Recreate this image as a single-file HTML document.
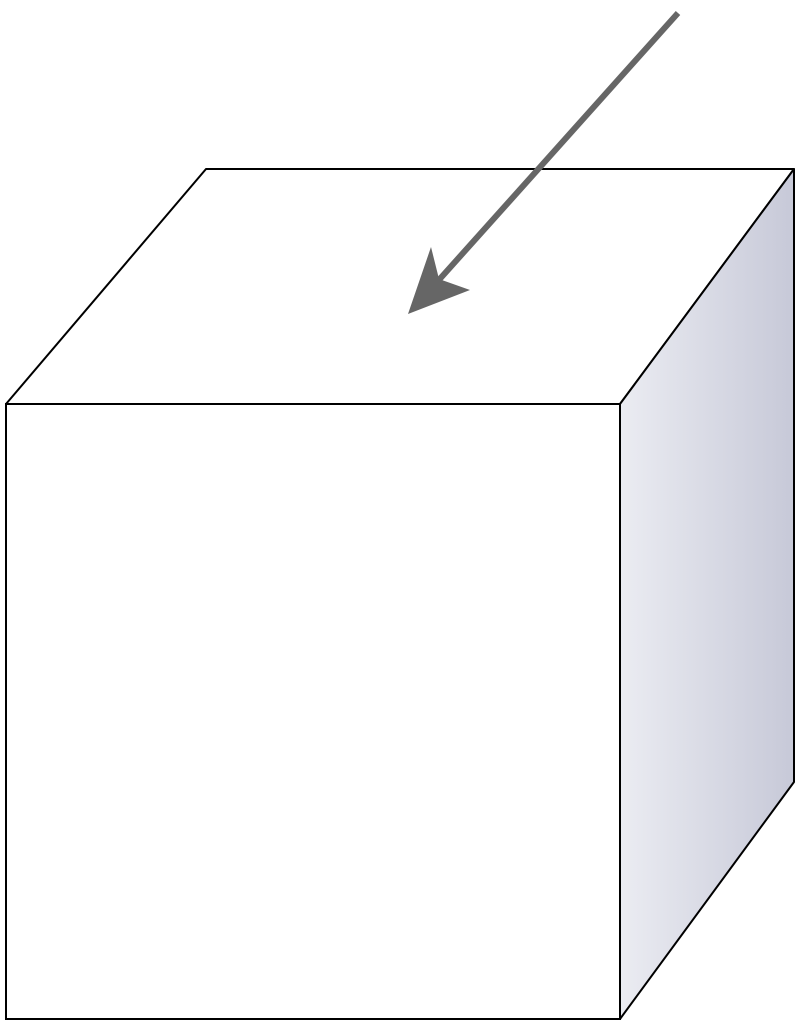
<!DOCTYPE html>
<html>
<head>
<meta charset="utf-8">
<style>
  html, body { margin: 0; padding: 0; background: #ffffff; }
  svg { display: block; }
</style>
</head>
<body>
<svg width="800" height="1032" viewBox="0 0 800 1032" xmlns="http://www.w3.org/2000/svg">
  <defs>
    <linearGradient id="sideGrad" x1="620" y1="0" x2="794" y2="0" gradientUnits="userSpaceOnUse">
      <stop offset="0" stop-color="#ebecf2"/>
      <stop offset="1" stop-color="#c7c9d8"/>
    </linearGradient>
  </defs>
  <polygon
    points="6,404 206,169 794,169 620,404" fill="#ffffff" stroke="#000" stroke-width="2" stroke-linejoin="round"/>
  <polygon
    points="620,404 794,169 794,782 620,1019" fill="url(#sideGrad)" stroke="#000" stroke-width="2" stroke-linejoin="round"/>
  <rect
    x="6" y="404" width="614" height="615" fill="#ffffff" stroke="#000" stroke-width="2"/>
  <g>
    <line
      x1="678" y1="13" x2="438" y2="281" stroke="#666666" stroke-width="6"/>
    <polygon
      points="408,314 431,247 439,279 470,290" fill="#666666"/>
  </g>
</svg>
</body>
</html>
